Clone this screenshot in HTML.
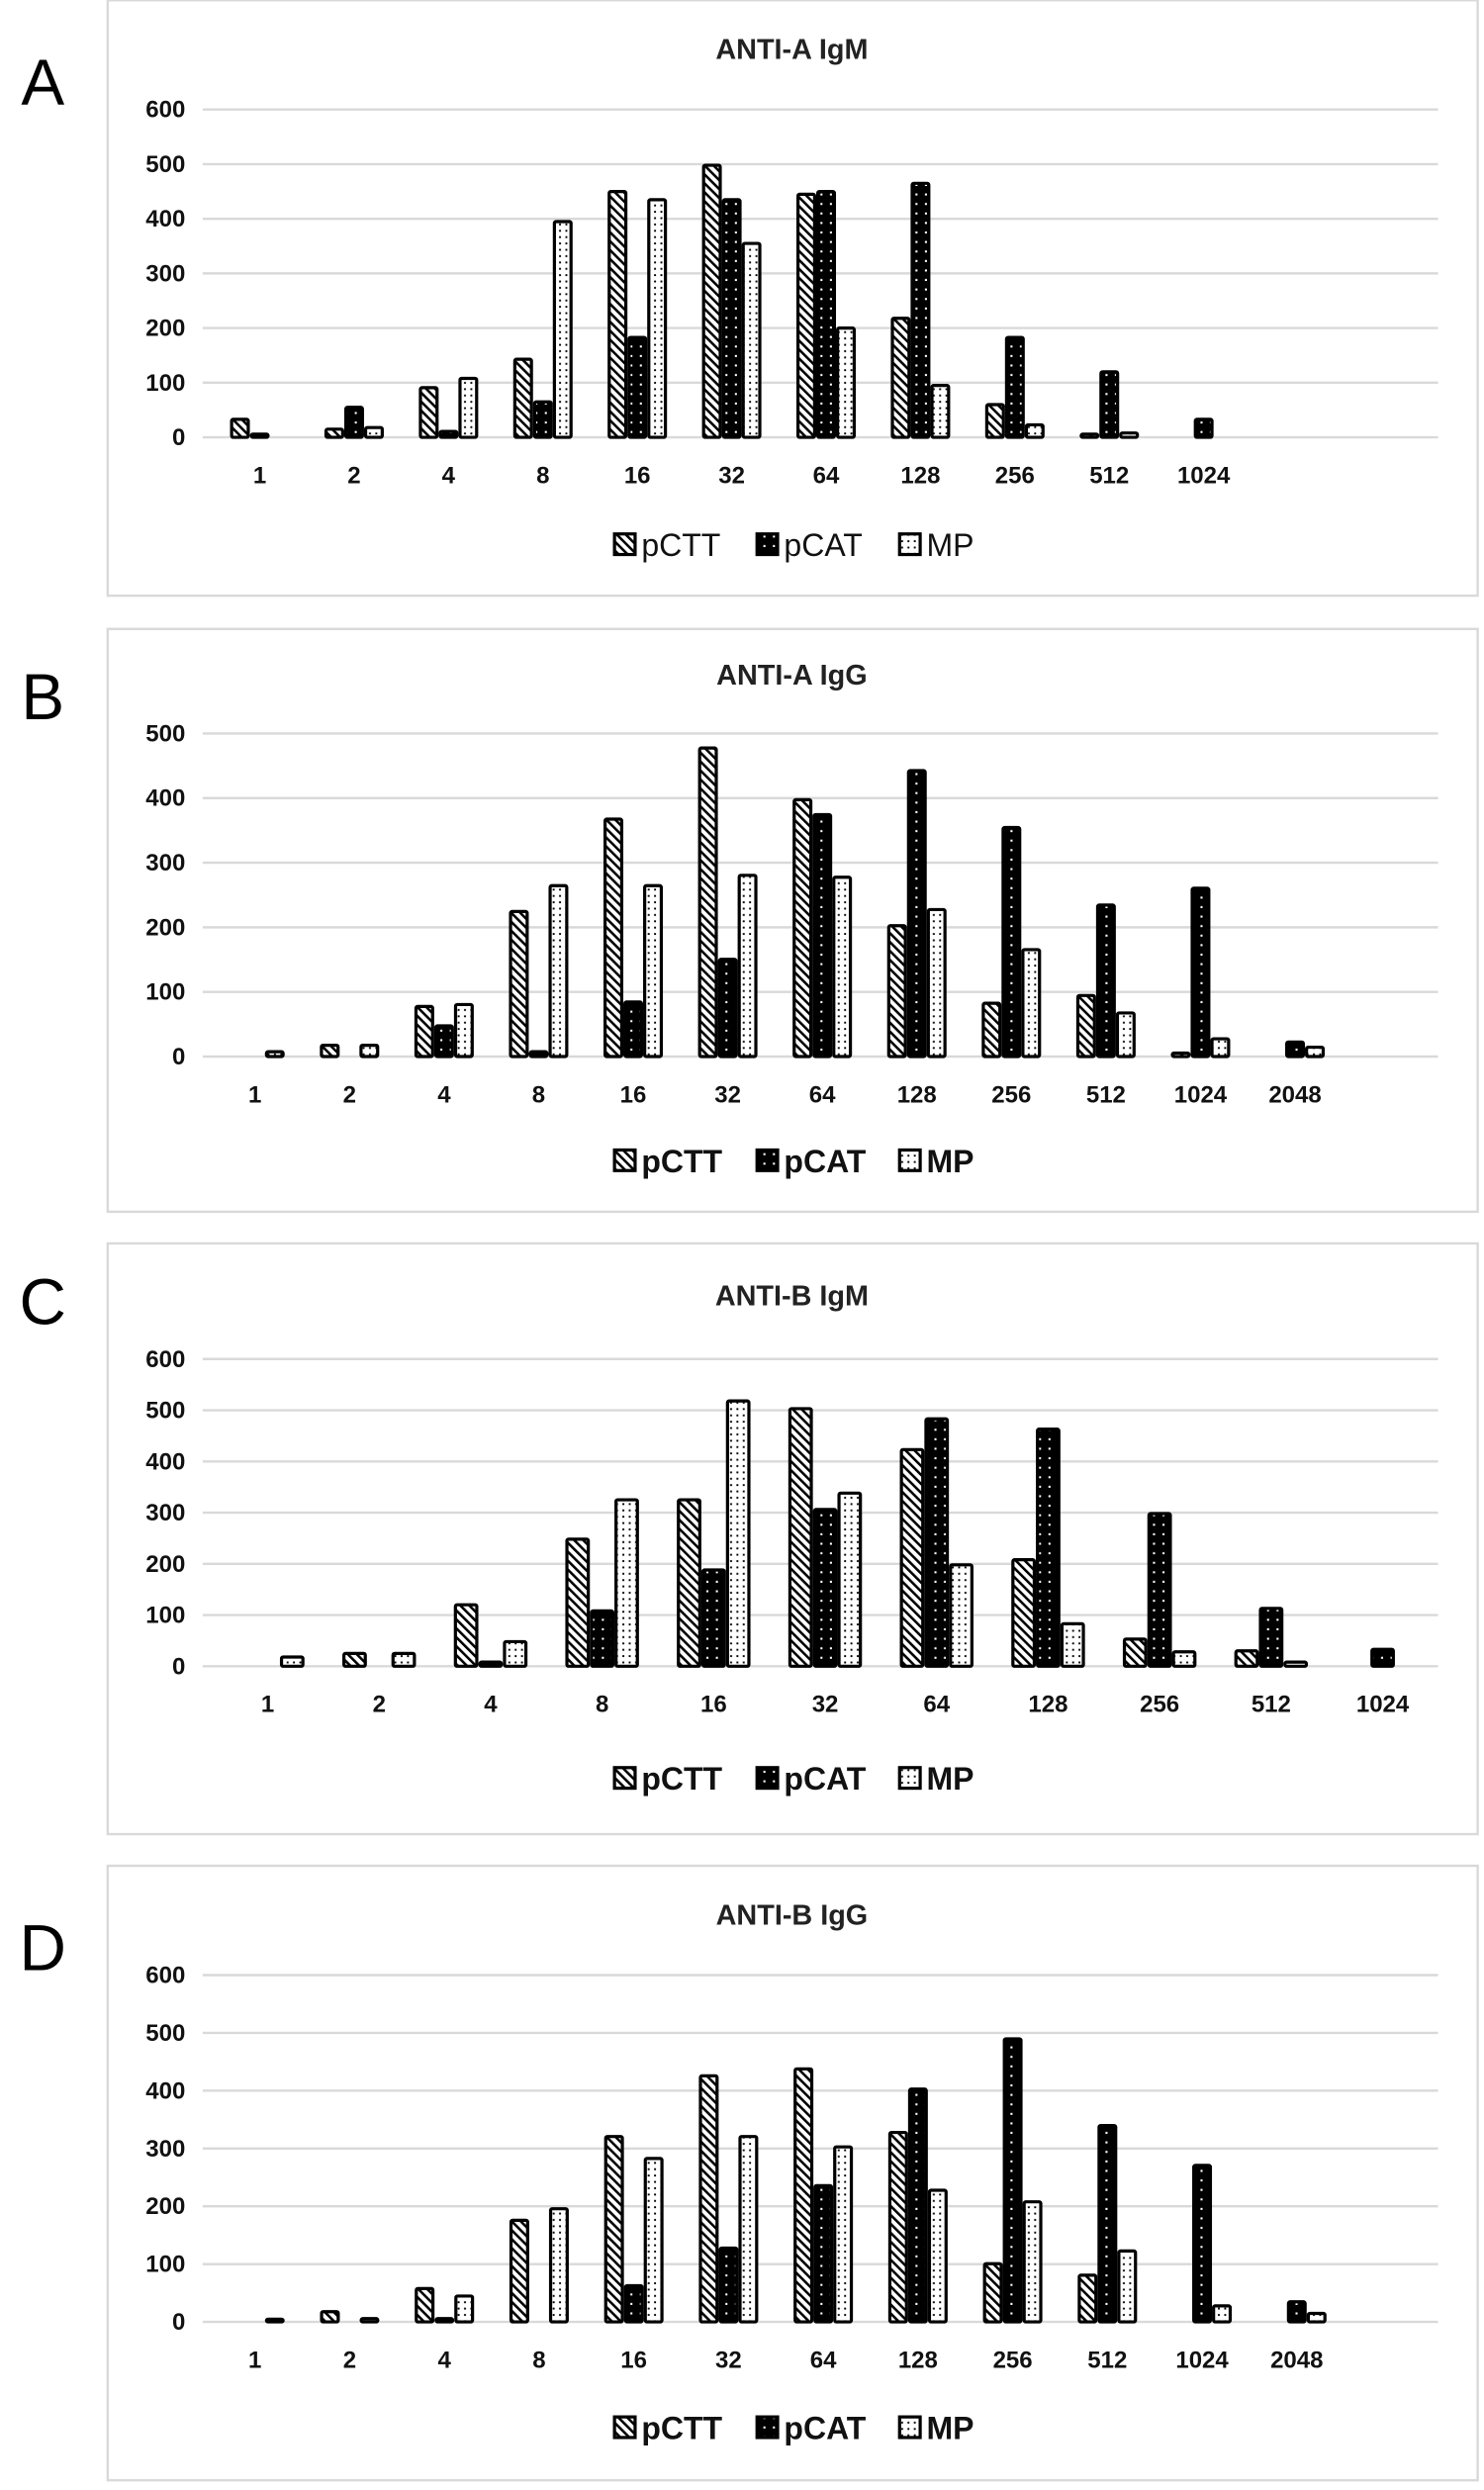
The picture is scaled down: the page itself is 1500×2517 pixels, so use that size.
<!DOCTYPE html>
<html><head><meta charset="utf-8"><style>html,body{margin:0;padding:0;background:#fff}svg{display:block}</style></head>
<body>
<svg id="s" xmlns="http://www.w3.org/2000/svg" width="1500" height="2517" viewBox="0 0 937 1572" font-family="'Liberation Sans', sans-serif">
<defs>
<pattern id="hatch" width="4" height="4" patternUnits="userSpaceOnUse" patternTransform="rotate(-45)"><rect width="4" height="4" fill="#fff"/><rect width="1.6" height="4" fill="#000"/></pattern>
<pattern id="dk" width="6" height="6" patternUnits="userSpaceOnUse"><rect width="6" height="6" fill="#000"/><rect x="2" y="2" width="1.3" height="1.3" fill="#fff"/></pattern>
<pattern id="lt" width="4" height="4" patternUnits="userSpaceOnUse"><rect width="4" height="4" fill="#fff"/><rect x="1" y="1" width="1.2" height="1.2" fill="#000"/></pattern>
</defs>
<g id="g"></g>
</svg>
<script>
var P=[
{L:"A",ly:52,box:[68,0,865,376],t:"ANTI-A IgM",ty:31,max:600,top:69,bot:276,cx:164,sp:59.6,bw:12.5,leg:344,bold:false,
 cats:["1","2","4","8","16","32","64","128","256","512","1024"],
 d:[[30,3,0],[12,52,15],[88,8,105],[140,62,392],[447,180,432],[495,432,352],[442,447,197],[215,462,92],[57,180,20],[3,117,5],[0,30,0]]},
{L:"B",ly:440,box:[68,397,865,368],t:"ANTI-A IgG",ty:426,max:500,top:463,bot:667,cx:161,sp:59.7,bw:12.5,leg:733,bold:true,
 cats:["1","2","4","8","16","32","64","128","256","512","1024","2048"],
 d:[[0,0,5],[15,0,15],[75,45,78],[222,5,262],[365,82,262],[475,148,278],[395,372,275],[200,440,225],[80,352,163],[92,232,65],[3,258,25],[0,20,12]]},
{L:"C",ly:822,box:[68,785,865,373],t:"ANTI-B IgM",ty:818,max:600,top:858,bot:1052,cx:169,sp:70.4,bw:15.5,leg:1123,bold:true,
 cats:["1","2","4","8","16","32","64","128","256","512","1024"],
 d:[[0,0,15],[22,0,22],[117,5,45],[245,105,322],[322,185,515],[500,303,335],[420,480,195],[205,460,80],[50,295,25],[27,110,5],[0,30,0]]},
{L:"D",ly:1230,box:[68,1178,865,388],t:"ANTI-B IgG",ty:1209,max:600,top:1247,bot:1466,cx:161,sp:59.8,bw:12.5,leg:1533,bold:true,
 cats:["1","2","4","8","16","32","64","128","256","512","1024","2048"],
 d:[[0,0,2],[15,0,3],[55,3,42],[173,0,193],[318,60,280],[423,125,318],[435,233,300],[325,400,225],[98,487,205],[78,337,120],[0,268,25],[0,32,12]]}
];
var fills=["url(#hatch)","url(#dk)","url(#lt)"],h="";
P.forEach(function(p){
 var b=p.box;
 h+='<rect x="'+b[0]+'" y="'+b[1]+'" width="'+b[2]+'" height="'+b[3]+'" fill="#fff" stroke="#d9d9d9" stroke-width="1.5"/>';
 h+='<text x="27" y="'+(p.ly+14)+'" font-size="41" text-anchor="middle">'+p.L+'</text>';
 h+='<text x="500" y="'+(p.ty+6)+'" font-size="18" font-weight="bold" text-anchor="middle" fill="#222">'+p.t+'</text>';
 var sc=(p.bot-p.top)/p.max;
 for(var v=0;v<=p.max;v+=100){var y=p.bot-v*sc;
  h+='<line x1="128" x2="908" y1="'+y+'" y2="'+y+'" stroke="#d9d9d9" stroke-width="1.5"/>';
  h+='<text x="117" y="'+(y+5)+'" font-size="15" font-weight="bold" text-anchor="end" fill="#111">'+v+'</text>';}
 p.d.forEach(function(r,i){var c=p.cx+i*p.sp,bw=p.bw;
  r.forEach(function(val,k){if(val<=0)return;var hh=val*sc+2,x=c-1.5*bw+k*bw;
   h+='<rect x="'+(x+1)+'" y="'+(p.bot-hh+1)+'" width="'+(bw-2)+'" height="'+Math.max(hh-1,1)+'" fill="'+fills[k]+'" stroke="#000" stroke-width="2" rx="1"/>';});
  h+='<text x="'+c+'" y="'+(p.bot+29)+'" font-size="15" font-weight="bold" text-anchor="middle" fill="#111">'+p.cats[i]+'</text>';});
 var lx=[388,478,568],nm=["pCTT","pCAT","MP"];
 for(var k=0;k<3;k++){h+='<rect x="'+lx[k]+'" y="'+(p.leg-7)+'" width="13" height="13" fill="'+fills[k]+'" stroke="#000" stroke-width="2"/>';
  h+='<text x="'+(lx[k]+17)+'" y="'+(p.leg+7)+'" font-size="20" '+(p.bold?'font-weight="bold" ':'')+'fill="#111">'+nm[k]+'</text>';}
});
document.getElementById("g").innerHTML=h;
</script>
</body></html>
